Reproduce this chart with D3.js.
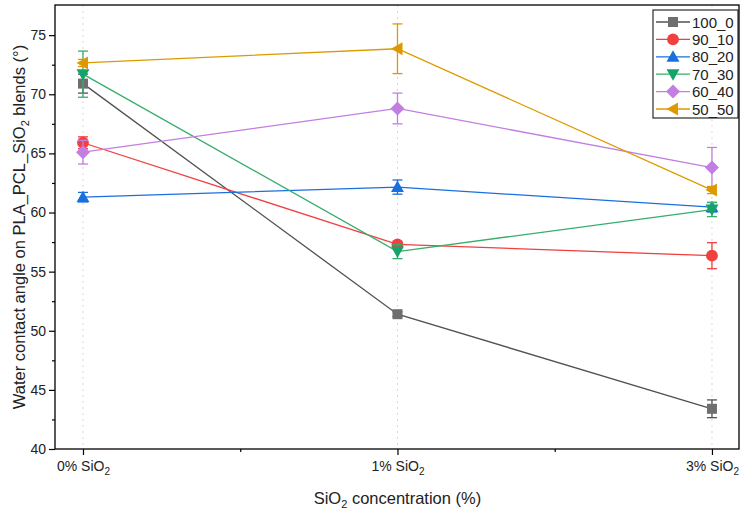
<!DOCTYPE html>
<html>
<head>
<meta charset="utf-8">
<script src="https://cdn.jsdelivr.net/npm/d3@7"></script>
<style>
  body { margin: 0; background: #fff; }
  svg { font-family: "Liberation Sans", Arial, sans-serif; }
</style>
</head>
<body>
<svg id="chart" width="746" height="513"></svg>
<script>
// categories on the x axis
var categories = ["0%", "1%", "3%"];

// series names (legend)
var seriesNames = ["100_0", "90_10", "80_20", "70_30", "60_40", "50_50"];

// mean contact angle per series
var values100_0 = [70.9, 51.4, 43.4];
var values90_10 = [65.9, 57.3, 56.35];
var values80_20 = [61.3, 62.15, 60.45];
var values70_30 = [71.7, 56.7, 60.25];
var values60_40 = [65.1, 68.8, 63.8];
var values50_50 = [72.65, 73.85, 61.9];

// standard deviation per series
var err100_0 = [0.8, 0.2, 0.75];
var err90_10 = [0.5, 0.2, 1.1];
var err80_20 = [0.4, 0.6, 0.4];
var err70_30 = [1.95, 0.6, 0.6];
var err60_40 = [1.0, 1.3, 1.7];
var err50_50 = [0.3, 2.1, 0.3];

var yTicks = [40, 45, 50, 55, 60, 65, 70, 75];

var colors = ["#515151", "#f14040", "#1a6fdf", "#37ad6b", "#c27ee0", "#dd9a00"];
var markerColors = ["#6e6e6e", "#f14040", "#1a6fdf", "#16a36a", "#c27ee0", "#dd9a00"];
var shapes = ["square", "circle", "triUp", "triDown", "diamond", "triLeft"];

var allValues = [values100_0, values90_10, values80_20, values70_30, values60_40, values50_50];
var allErrors = [err100_0, err90_10, err80_20, err70_30, err60_40, err50_50];

var series = seriesNames.map(function(name, i) {
  return {
    name: name, color: colors[i], mcolor: markerColors[i], shape: shapes[i],
    points: categories.map(function(c, j) {
      return {x: j, y: allValues[i][j], e: allErrors[i][j]};
    })
  };
});

var margin = {left: 55, right: 7, top: 5, bottom: 64};
var width = 746 - margin.left - margin.right,
    height = 513 - margin.top - margin.bottom;

var svg = d3.select("#chart");
var g = svg.append("g").attr("transform", "translate(" + margin.left + "," + margin.top + ")");

var x = d3.scaleLinear().domain([-0.089, 2.086]).range([0, width]);
var y = d3.scaleLinear().domain([40, 77.55]).range([height, 0]);

// vertical dotted grid lines
g.selectAll(".grid")
  .data(categories)
 .enter().append("line")
  .attr("x1", (d, i) => x(i)).attr("x2", (d, i) => x(i))
  .attr("y1", 0).attr("y2", height)
  .attr("stroke", "#d8d8d8")
  .attr("stroke-width", 1)
  .attr("stroke-dasharray", "2,4");

// y axis
var yAxis = g.append("g")
  .call(d3.axisLeft(y).tickValues(yTicks).tickSize(6).tickPadding(3));
g.append("g")
  .call(d3.axisLeft(y).tickValues(d3.range(42.5, 77.5, 5)).tickSize(3).tickFormat(""));

// x axis
var xAxis = g.append("g")
  .attr("transform", "translate(0," + height + ")")
  .call(d3.axisBottom(x).tickValues([0, 1, 2]).tickSize(6).tickPadding(8).tickFormat(""));
g.append("g")
  .attr("transform", "translate(0," + height + ")")
  .call(d3.axisBottom(x).tickValues([0.5, 1.5]).tickSize(3).tickFormat(""));

g.selectAll(".domain").remove();
g.selectAll(".tick line").attr("stroke", "#000").attr("stroke-width", 1.2);
yAxis.selectAll("text").attr("font-size", 14).attr("fill", "#222");

// x tick labels with subscript
xAxis.selectAll(".tick").each(function(d) {
  var t = d3.select(this).append("text")
    .attr("y", 21.5).attr("fill", "#222")
    .attr("font-size", 14).attr("text-anchor", "middle");
  t.append("tspan").text(categories[d] + " SiO");
  t.append("tspan").attr("font-size", 10).attr("dy", 4).text("2");
});

// frame
g.append("rect")
  .attr("width", width).attr("height", height)
  .attr("fill", "none").attr("stroke", "#000").attr("stroke-width", 1.3);

function symbolPath(shape) {
  if (shape === "square") return "M-5,-5H5V5H-5Z";
  if (shape === "circle") return d3.symbol(d3.symbolCircle, 110)();
  if (shape === "triUp") return "M0,-6.5L6.5,5L-6.5,5Z";
  if (shape === "triDown") return "M0,6.5L6.5,-5L-6.5,-5Z";
  if (shape === "diamond") return "M0,-7L7,0L0,7L-7,0Z";
  if (shape === "triLeft") return "M-6.5,0L5,-6.5L5,6.5Z";
}

var line = d3.line().x(d => x(d.x)).y(d => y(d.y));

series.forEach(function(s) {
  var sg = g.append("g").attr("class", "series");
  sg.append("path")
    .datum(s.points)
    .attr("d", line)
    .attr("fill", "none")
    .attr("stroke", s.color)
    .attr("stroke-width", 1.3);

  var eb = sg.selectAll(".err")
    .data(s.points)
   .enter().append("g")
    .attr("stroke", s.color)
    .attr("stroke-width", 1.3);
  eb.append("line")
    .attr("x1", d => x(d.x)).attr("x2", d => x(d.x))
    .attr("y1", d => y(d.y + d.e)).attr("y2", d => y(d.y - d.e));
  eb.append("line")
    .attr("x1", d => x(d.x) - 5).attr("x2", d => x(d.x) + 5)
    .attr("y1", d => y(d.y + d.e)).attr("y2", d => y(d.y + d.e));
  eb.append("line")
    .attr("x1", d => x(d.x) - 5).attr("x2", d => x(d.x) + 5)
    .attr("y1", d => y(d.y - d.e)).attr("y2", d => y(d.y - d.e));

  sg.selectAll(".pt")
    .data(s.points)
   .enter().append("path")
    .attr("d", symbolPath(s.shape))
    .attr("transform", d => "translate(" + x(d.x) + "," + y(d.y) + ")")
    .attr("fill", s.mcolor);
});

// legend
var legend = g.append("g").attr("transform", "translate(598,5)");
legend.append("rect")
  .attr("width", 85).attr("height", 108)
  .attr("fill", "#fff").attr("stroke", "#000").attr("stroke-width", 1);
var li = legend.selectAll(".li")
  .data(series)
 .enter().append("g")
  .attr("transform", (d, i) => "translate(0," + (12 + i * 17.4) + ")");
li.append("line")
  .attr("x1", 3).attr("x2", 37).attr("y1", 0).attr("y2", 0)
  .attr("stroke", d => d.color).attr("stroke-width", 1.3);
li.append("path")
  .attr("d", d => symbolPath(d.shape))
  .attr("transform", "translate(20,0)")
  .attr("fill", d => d.mcolor);
li.append("text")
  .attr("x", 39).attr("y", 5.5)
  .attr("font-size", 15).attr("fill", "#222")
  .text(d => d.name);

// axis titles
var yt = svg.append("text")
  .attr("transform", "translate(25," + (margin.top + height / 2) + ") rotate(-90)")
  .attr("text-anchor", "middle")
  .attr("font-size", 16.5).attr("fill", "#222");
yt.append("tspan").text("Water contact angle on PLA_PCL_SiO");
yt.append("tspan").attr("font-size", 11).attr("dy", 4).text("2");
yt.append("tspan").attr("dy", -4).text(" blends (\u00b0)");

var xt = svg.append("text")
  .attr("x", margin.left + x(1)).attr("y", 504)
  .attr("text-anchor", "middle")
  .attr("font-size", 16.5).attr("fill", "#222");
xt.append("tspan").text("SiO");
xt.append("tspan").attr("font-size", 11).attr("dy", 4).text("2");
xt.append("tspan").attr("dy", -4).text(" concentration (%)");
</script>
</body>
</html>
